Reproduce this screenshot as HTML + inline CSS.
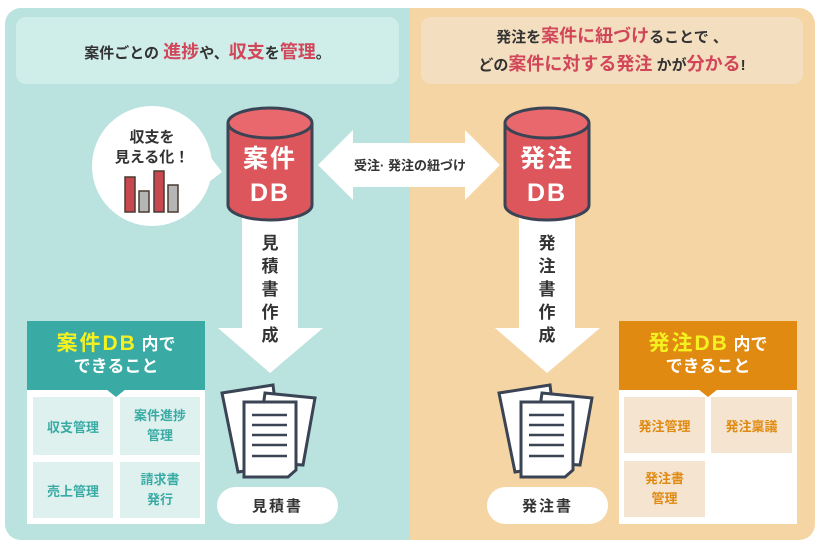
<!DOCTYPE html>
<html><head><meta charset="utf-8"><style>
body{margin:0;width:821px;height:548px;background:#fff;position:relative;overflow:hidden;font-family:"Liberation Sans","Noto Sans CJK JP",sans-serif;font-weight:bold;}
.a{position:absolute}
.c{display:flex;align-items:center;justify-content:center;text-align:center}
.r{color:#d2465a}
</style></head><body>
<div class="a" style="left:5px;top:8px;width:405px;height:532px;background:#bae2de;border-radius:16px 0 0 16px"></div>
<div class="a" style="left:410px;top:8px;width:405px;height:532px;background:#f6d5a5;border-radius:0 16px 16px 0"></div>
<div class="a c" style="left:16px;top:17px;width:383px;height:67px;background:#cfeeea;border-radius:10px;font-size:15px;color:#333"><div>案件ごとの <span class="r" style="font-size:18px">進捗</span>や、<span class="r" style="font-size:18px">収支</span>を<span class="r" style="font-size:18px">管理</span>。</div></div>
<div class="a c" style="left:421px;top:17px;width:382px;height:67px;background:#f3dfbf;border-radius:10px;font-size:15px;color:#333;line-height:26px"><div>発注を<span class="r" style="font-size:18px">案件に紐づけ</span>ることで 、<br>どの<span class="r" style="font-size:18px">案件に対する発注</span> かが<span class="r" style="font-size:18px">分かる</span>!</div></div>
<svg class="a" style="left:0;top:0" width="821" height="548">
<circle cx="152" cy="166" r="60" fill="#fff"/>
<polygon points="205,150 222,172 205,185" fill="#fff"/>
<g stroke="#4a3a33" stroke-width="1.5">
<rect x="125" y="177" width="10" height="35" fill="#c8484f"/>
<rect x="139" y="191" width="10" height="21" fill="#b5b5b5"/>
<rect x="154" y="171" width="10" height="41" fill="#c8484f"/>
<rect x="168" y="185" width="10" height="27" fill="#b5b5b5"/>
</g>
<polygon points="318,165 353,130 353,143 465,143 465,130 500,165 465,200 465,187 353,187 353,200" fill="#fff"/>
<polygon points="242,215 298,215 298,328 323,328 270,373 218,328 242,328" fill="#fff"/>
<polygon points="519,215 575,215 575,328 600,328 547,373 495,328 519,328" fill="#fff"/>
<g stroke="#3a4455" stroke-width="3">
<path d="M228,123 L228,205 A42,15 0 0 0 312,205 L312,123" fill="#dc565c"/>
<ellipse cx="270" cy="123" rx="42" ry="15" fill="#e8686d"/>
<path d="M505,123 L505,205 A42,15 0 0 0 589,205 L589,123" fill="#dc565c"/>
<ellipse cx="547" cy="123" rx="42" ry="15" fill="#e8686d"/>
</g>
<g stroke="#3a4455" stroke-width="3" fill="#fff">
<polygon points="222,393 273,385 283,465 238,472"/>
<polygon points="265,393 315,398 303,465 255,462"/>
<polygon points="244,402 296,402 296,470 288,477 244,477"/>
<g stroke-width="2.5"><line x1="252" y1="415" x2="287" y2="415"/><line x1="252" y1="425" x2="287" y2="425"/><line x1="252" y1="435" x2="287" y2="435"/><line x1="252" y1="445" x2="287" y2="445"/><line x1="252" y1="456" x2="287" y2="456"/></g>
</g>
<g stroke="#3a4455" stroke-width="3" fill="#fff" transform="translate(277,0)">
<polygon points="222,393 273,385 283,465 238,472"/>
<polygon points="265,393 315,398 303,465 255,462"/>
<polygon points="244,402 296,402 296,470 288,477 244,477"/>
<g stroke-width="2.5"><line x1="252" y1="415" x2="287" y2="415"/><line x1="252" y1="425" x2="287" y2="425"/><line x1="252" y1="435" x2="287" y2="435"/><line x1="252" y1="445" x2="287" y2="445"/><line x1="252" y1="456" x2="287" y2="456"/></g>
</g>
</svg>
<div class="a c" style="left:102px;top:128px;width:100px;font-size:15px;line-height:20px;color:#333"><div>収支を<br>見える化！</div></div>
<div class="a c" style="left:228px;top:142px;width:84px;font-size:25px;line-height:34px;color:#fff;letter-spacing:2px"><div>案件<br>DB</div></div>
<div class="a c" style="left:505px;top:142px;width:84px;font-size:25px;line-height:34px;color:#fff;letter-spacing:2px"><div>発注<br>DB</div></div>
<div class="a c" style="left:330px;top:155px;width:160px;font-size:13px;color:#333">受注· 発注の紐づけ</div>
<div class="a" style="left:258px;top:232px;width:24px;font-size:17px;line-height:23px;color:#333;text-align:center">見積書作成</div>
<div class="a" style="left:535px;top:232px;width:24px;font-size:17px;line-height:23px;color:#333;text-align:center">発注書作成</div>
<div class="a c" style="left:217px;top:487px;width:121px;height:37px;background:#fff;border-radius:19px;font-size:15px;color:#333;letter-spacing:2px">見積書</div>
<div class="a c" style="left:487px;top:487px;width:121px;height:37px;background:#fff;border-radius:19px;font-size:15px;color:#333;letter-spacing:2px">発注書</div>
<div class="a" style="left:27px;top:321px;width:178px;height:203px;background:#fff"></div>
<div class="a c" style="left:27px;top:321px;width:178px;height:69px;background:#3aaba4;color:#fff;font-size:17px;line-height:22px"><div><span style="color:#f5f020;font-size:21px;letter-spacing:2px">案件DB</span> 内で<br>できること</div></div>
<div class="a" style="left:106px;top:389px;border:10px solid transparent;border-top:8px solid #3aaba4;border-bottom:0"></div>
<div class="a c" style="left:33px;top:397px;width:80px;height:58px;background:#dff1ef;color:#3aaba4;font-size:13px">収支管理</div>
<div class="a c" style="left:120px;top:397px;width:80px;height:58px;background:#dff1ef;color:#3aaba4;font-size:13px;line-height:20px"><div>案件進捗<br>管理</div></div>
<div class="a c" style="left:33px;top:462px;width:80px;height:56px;background:#dff1ef;color:#3aaba4;font-size:13px">売上管理</div>
<div class="a c" style="left:120px;top:462px;width:80px;height:56px;background:#dff1ef;color:#3aaba4;font-size:13px;line-height:20px"><div>請求書<br>発行</div></div>
<div class="a" style="left:619px;top:321px;width:178px;height:203px;background:#fff"></div>
<div class="a c" style="left:619px;top:321px;width:178px;height:69px;background:#e08a12;color:#fff;font-size:17px;line-height:22px"><div><span style="color:#f5f020;font-size:21px;letter-spacing:2px">発注DB</span> 内で<br>できること</div></div>
<div class="a" style="left:698px;top:389px;border:10px solid transparent;border-top:8px solid #e08a12;border-bottom:0"></div>
<div class="a c" style="left:624px;top:397px;width:81px;height:56px;background:#f5e4cf;color:#e08a12;font-size:13px">発注管理</div>
<div class="a c" style="left:711px;top:397px;width:81px;height:56px;background:#f5e4cf;color:#e08a12;font-size:13px">発注稟議</div>
<div class="a c" style="left:624px;top:461px;width:81px;height:56px;background:#f5e4cf;color:#e08a12;font-size:13px;line-height:20px"><div>発注書<br>管理</div></div>
</body></html>
